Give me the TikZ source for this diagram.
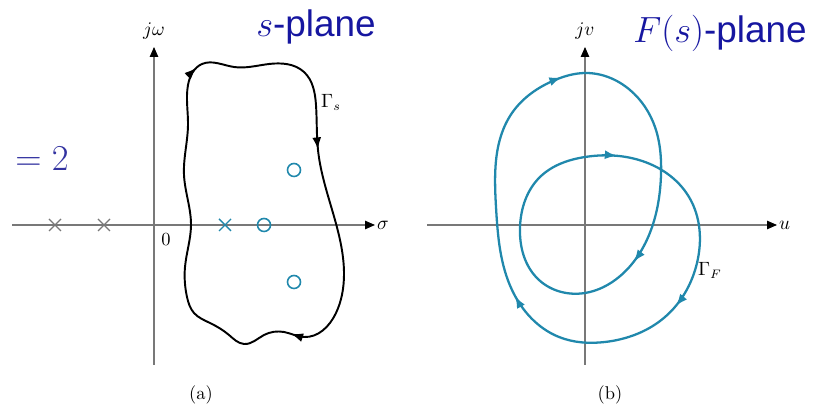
\documentclass[tikz,border=0pt]{standalone}
\usepackage{fontspec}
\newfontfamily\planefont{Liberation Sans}
\usepackage{tikz}
\usetikzlibrary{arrows.meta, decorations.markings, hobby}

\definecolor{contourteal}{RGB}{32,136,172}
\definecolor{titleblue}{RGB}{22,22,160}
\definecolor{eqblue}{RGB}{50,50,160}
\definecolor{axisgray}{RGB}{120,120,120}

\tikzset{
  axis/.style={axisgray, line width=0.6pt, -{Triangle[length=2mm, width=1.7mm, color=black]}},
  lbl/.style={font=\fontsize{10.5}{12}\selectfont, inner sep=1pt},
  planetitle/.style={font=\planefont\fontsize{21}{24}\selectfont, text=titleblue, anchor=base, inner sep=0pt},
  tipat/.style={postaction={decorate, decoration={markings,
      mark=at position #1 with {\arrow{Latex[length=2.4mm, width=1.8mm]}}}}}
}

\begin{document}
\begin{tikzpicture}[x=0.02cm, y=0.02cm]
\useasboundingbox (0,0) rectangle (825,405);

% (a) s-plane
\begin{scope}[shift={(154,180)}]
\coordinate (sigL) at (-142,0);
\coordinate (sigR) at (221,0);
\coordinate (jwB) at (0,-140);
\coordinate (jwT) at (0,178);
\draw[axis] (sigL) -- (sigR);
\draw[axis] (jwB) -- (jwT);
\node[lbl, right] (sig) at (sigR) {$\sigma$};
\node[lbl, above=3pt] (jw) at (jwT) {$j\omega$};
\node[lbl] (zero) at (12,-15) {0};
% poles
\foreach \x in {-99,-50} {
  \draw[axisgray, line width=0.7pt] (\x-6,-6) -- (\x+6,6) (\x-6,6) -- (\x+6,-6);
}
\draw[contourteal, line width=0.8pt] (65,-6) -- (77,6) (65,6) -- (77,-6);
% zeros
\foreach \x/\y in {110/0, 140/55, 140/-57} {
  \draw[contourteal, line width=0.9pt] (\x,\y) circle (6.5);
}
% contour
\draw[black, line width=1.1pt, tipat=0.30, tipat=0.548, tipat=0.836] plot[closed hobby] coordinates {
  (33,-72) (31,-42) (37,0) (30,50) (34,100) (34,140) (48,161) (80,158) (115,161)
  (150,153) (162,120) (164,75) (181,5) (190,-50) (182,-88) (150,-112) (130,-107)
  (110,-110) (90,-119) (75,-110) (56,-98) (40,-88)};
\node[lbl] (gs) at (177,123) {$\Gamma_s$};
\node[lbl] (capa) at (47,-170) {(a)};
\end{scope}

% (b) F(s)-plane
\begin{scope}[shift={(585,180)}]
\coordinate (uL) at (-158,0);
\coordinate (uR) at (192,0);
\coordinate (jvB) at (0,-140);
\coordinate (jvT) at (0,178);
\draw[axis] (uL) -- (uR);
\draw[axis] (jvB) -- (jvT);
\node[lbl, right] (u) at (uR) {$u$};
\node[lbl, above=3pt] (jv) at (jvT) {$jv$};
% image contour
\draw[contourteal, line width=1.3pt, tipat=0.195, tipat=0.447, tipat=0.615, tipat=0.772, tipat=0.98]
  plot[closed hobby] coordinates {
  (0,152) (45,135) (70,98) (76,50) (66,-5) (34,-52) (0,-68) (-46,-55) (-65,-2)
  (-45,48) (0,68) (54,65) (104,28) (112,-38) (80,-92) (20,-117) (-26,-112)
  (-73,-65) (-89,18) (-73,112) (-30,145)};
\node[lbl] (gf) at (125,-45) {$\Gamma_F$};
\node[lbl] (capb) at (25,-170) {(b)};
\end{scope}

% titles
\node[planetitle] (splane) at (316,368) {$s$-plane};
\node[planetitle] (fplane) at (720,362) {$F(s)$-plane};
\node[font=\fontsize{20}{22}\selectfont, text=eqblue, inner sep=0pt] (eqtwo) at (42,246) {$=2$};

\end{tikzpicture}
\end{document}
